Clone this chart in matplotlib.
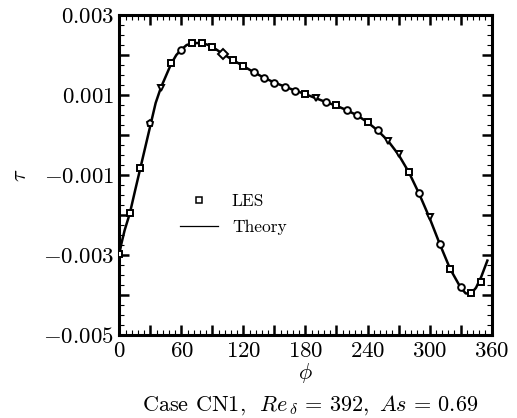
import matplotlib
matplotlib.use("Agg")
import matplotlib.pyplot as plt
from matplotlib.ticker import MultipleLocator, FixedLocator, FixedFormatter
from matplotlib.lines import Line2D

plt.rcParams["mathtext.fontset"] = "cm"
plt.rcParams["font.family"] = "serif"
plt.rcParams["font.serif"] = ["cmr10", "DejaVu Serif"]

# LES samples (phi in degrees, tau)
les_phi = [0, 10, 20, 30, 40, 50, 60, 70, 80, 90, 100, 110, 120, 130, 140, 150, 160, 170,
           180, 190, 200, 210, 220, 230, 240, 250, 260, 270, 280, 290, 300, 310, 320, 330, 340, 350]
les_tau = [-0.00298, -0.00196, -0.00082, 0.00029, 0.00118, 0.00179, 0.00213, 0.00229, 0.00229,
           0.00221, 0.00202, 0.00187, 0.00172, 0.00157, 0.00143, 0.00131, 0.00121, 0.00111,
           0.00103, 0.00092, 0.00082, 0.00074, 0.00063, 0.00050, 0.00033, 0.00012, -0.00014,
           -0.00048, -0.00092, -0.00146, -0.00206, -0.00273, -0.00336, -0.00381, -0.00394, -0.00367]

# theory curve
theory_phi = [0, 2, 5, 10, 15, 20, 25, 30, 35, 40, 45, 50, 55, 60, 65, 70, 75, 80, 85, 90,
              100, 110, 120, 130, 140, 150, 160, 170, 180, 190, 200, 210, 220, 230, 240,
              250, 260, 270, 280, 290, 300, 310, 320, 330, 335, 340, 345, 350, 356]
theory_tau = [-0.00295, -0.00270, -0.00238, -0.00196, -0.00140, -0.00085, -0.00030, 0.00025,
              0.00080, 0.00118, 0.00148, 0.00178, 0.00200, 0.00214, 0.00225, 0.00229, 0.00230,
              0.00229, 0.00226, 0.00220, 0.00203, 0.00187, 0.00172, 0.00157, 0.00143, 0.00131,
              0.00121, 0.00111, 0.00102, 0.00092, 0.00082, 0.00073, 0.00062, 0.00049, 0.00032,
              0.00011, -0.00015, -0.00049, -0.00093, -0.00147, -0.00207, -0.00273, -0.00335,
              -0.00381, -0.00396, -0.00397, -0.00382, -0.00355, -0.00314]

# symbol used at each LES point
les_markers = ["s", "s", "s", "p", "v", "s", "o", "s", "s", "s", "D", "s", "s", "o", "o", "o",
               "o", "o", "s", "v", "o", "s", "o", "o", "s", "o", "v", "v", "s", "o", "v", "o",
               "s", "o", "s", "s"]

y_ticks = [-0.005, -0.004, -0.003, -0.002, -0.001, 0.0, 0.001, 0.002, 0.003]
y_labels = [r"$-0.005$", "", r"$-0.003$", "", r"$-0.001$", "", r"$0.001$", "", r"$0.003$"]
x_ticks = [0, 30, 60, 90, 120, 150, 180, 210, 240, 270, 300, 330, 360]
x_labels = [r"$0$", "", r"$60$", "", r"$120$", "", r"$180$", "", r"$240$", "", r"$300$", "", r"$360$"]

fig = plt.figure(figsize=(5.17, 4.18), dpi=100)
ax = fig.add_axes([0.2311, 0.1986, 0.7196, 0.7655])

ax.plot(theory_phi, theory_tau, color="black", lw=1.8, zorder=2)
for p, t, m in zip(les_phi, les_tau, les_markers):
    ax.plot(p, t, marker=m, ms=4.8, mfc="white", mec="black", mew=1.4, ls="none", zorder=3)

ax.set_xlim(0, 360)
ax.set_ylim(-0.005, 0.003)

ax.xaxis.set_major_locator(FixedLocator(x_ticks))
ax.xaxis.set_major_formatter(FixedFormatter(x_labels))
ax.xaxis.set_minor_locator(MultipleLocator(6))
ax.yaxis.set_major_locator(FixedLocator(y_ticks))
ax.yaxis.set_major_formatter(FixedFormatter(y_labels))
ax.yaxis.set_minor_locator(MultipleLocator(0.00025))

ax.tick_params(which="both", direction="in", top=True, right=True, labelsize=16.5)
ax.tick_params(which="major", length=7, width=1.8)
ax.tick_params(which="minor", length=3.5, width=0.8)
ax.tick_params(axis="x", pad=5)
ax.tick_params(axis="y", pad=4)
for s in ax.spines.values():
    s.set_linewidth(2.2)

ax.set_xlabel(r"$\phi$", fontsize=16, labelpad=0)
ax.set_ylabel(r"$\tau$", fontsize=16, labelpad=9)

fig.text(0.599, 0.03, r"Case CN1,  $Re_{\,\delta}\, =\, 392,\ As\, =\, 0.69$", fontsize=16,
         ha="center", va="center")

handles = [Line2D([], [], marker="s", ms=4.2, mfc="white", mec="black", mew=1.1, ls="none"),
           Line2D([], [], color="black", lw=0.9)]
ax.legend(handles, ["LES", "Theory"], loc="upper left", bbox_to_anchor=(0.12, 0.49),
          frameon=False, fontsize=12.5, handlelength=2.2, handletextpad=0.8, labelspacing=0.6)

fig.savefig("out.png", dpi=100)
